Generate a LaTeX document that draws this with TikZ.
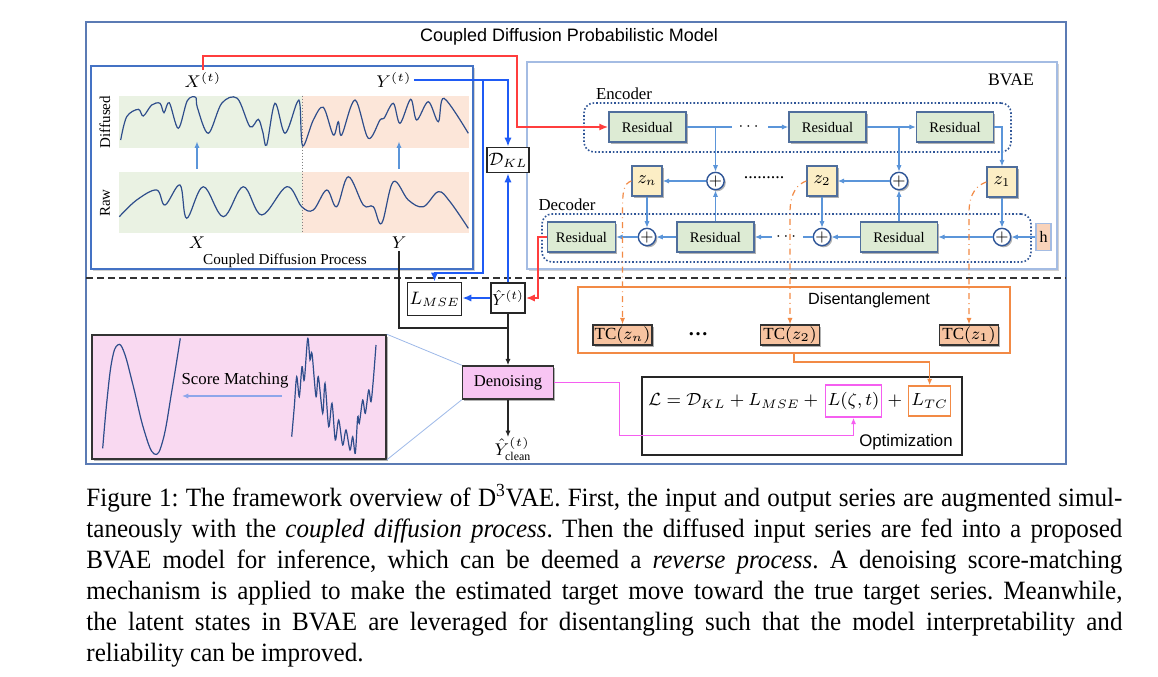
\RequirePackage{fix-cm}
\documentclass[tikz,border=0pt]{standalone}
\usepackage{amsmath}
\usepackage{amssymb}
\usepackage{fontspec}
\setmainfont{Liberation Serif}
\newfontfamily\diagsans{Liberation Sans}
\newfontfamily\capfont{Liberation Serif}[FakeStretch=0.95]
\usepackage{tikz}
\usetikzlibrary{arrows.meta, positioning, calc, shadows}

\definecolor{frameblue}{HTML}{5B7BB4}
\definecolor{procblue}{HTML}{4472C4}
\definecolor{bvaeblue}{HTML}{A4BCE3}
\definecolor{flowblue}{HTML}{5B95D9}
\definecolor{linkblue}{HTML}{1F5BF5}
\definecolor{dotblue}{HTML}{2F5597}
\definecolor{edgeblue}{HTML}{4F6E9C}
\definecolor{resgreen}{HTML}{DDEBD4}
\definecolor{zyellow}{HTML}{FCEEC5}
\definecolor{tcpeach}{HTML}{F7C3A0}
\definecolor{hpeach}{HTML}{F9D3BA}
\definecolor{bandgreen}{HTML}{EAF2E3}
\definecolor{bandorange}{HTML}{FCE6D9}
\definecolor{linkred}{HTML}{FF3D3D}
\definecolor{tcorange}{HTML}{F28A45}
\definecolor{lossmagenta}{HTML}{F55FF0}
\definecolor{denpink}{HTML}{F8C5F3}
\definecolor{scorepink}{HTML}{F9D9F1}
\definecolor{curveblue}{HTML}{2E4D8B}
\definecolor{zoomblue}{HTML}{9DB8E8}

\tikzset{%
	boxshadow/.style={drop shadow={shadow xshift=0.8pt, shadow yshift=-0.8pt, fill=black, opacity=0.3}},
	panel/.style={draw=#1, fill=white, line width=0.9pt,%
		drop shadow={shadow xshift=1.2pt, shadow yshift=-1.2pt, fill=gray!70, opacity=0.5}},
	band/.style={fill=#1, inner sep=0pt},
	res/.style={draw=edgeblue, fill=resgreen, line width=0.7pt, minimum width=38.5pt,%
		minimum height=15pt, inner sep=0pt, font=\fontsize{7.3}{8}\selectfont, boxshadow},
	zbox/.style={draw=edgeblue, fill=zyellow, line width=0.7pt, minimum width=15pt,%
		minimum height=15pt, inner sep=0pt, font=\fontsize{9}{9}\selectfont, boxshadow},
	adder/.style={circle, draw=dotblue, fill=white, line width=0.7pt, minimum size=8.5pt,%
		inner sep=0pt, font=\fontsize{8}{8}\selectfont, boxshadow},
	hbox/.style={draw=bvaeblue, fill=hpeach, line width=0.7pt, minimum width=7.5pt,%
		minimum height=13.5pt, inner sep=0pt, font=\fontsize{8}{8}\selectfont},
	coder/.style={draw=dotblue, densely dotted, line width=0.8pt, rounded corners=5pt},
	flow/.style={->, draw=flowblue, line width=0.55pt},
	flowline/.style={draw=flowblue, line width=0.55pt},
	link/.style={-{Latex[length=4.5pt, width=3.6pt]}, draw=linkblue, line width=1pt},
	redlink/.style={-{Latex[length=4.5pt, width=3.6pt]}, draw=linkred, line width=0.9pt},
	blk/.style={draw=black!85, line width=0.6pt},
	lbox/.style={draw=black!85, fill=white, line width=0.8pt, inner sep=1pt, font=\fontsize{9}{10}\selectfont},
	tcbox/.style={draw=black!80, fill=tcpeach, line width=0.7pt, minimum width=29.5pt,%
		minimum height=10pt, inner sep=0pt, font=\fontsize{8.5}{9}\selectfont, boxshadow},
	tcflow/.style={->, draw=tcorange, dash dot, line width=0.6pt},
	curve/.style={draw=curveblue, line width=0.6pt},
	mathlab/.style={font=\fontsize{8.5}{9}\selectfont, inner sep=1pt},
	formula/.style={font=\fontsize{8.8}{10}\selectfont, inner sep=1pt},
	serlab/.style={font=\fontsize{#1}{#1}\selectfont, inner sep=1pt},
	sanslab/.style={font=\diagsans\fontsize{#1}{#1}\selectfont, inner sep=1pt}
}

\begin{document}
\begin{tikzpicture}[x=0.5pt, y=-0.5pt, >={Latex[length=3.2pt, width=2.6pt]}]
	\useasboundingbox (0,0) rectangle (1158,676);
	\draw[draw=frameblue, line width=1pt] (86,22) rectangle (1066,464);
	\node[sanslab=9] (title) at (569,37) {Coupled Diffusion Probabilistic Model};
	\node[panel=procblue, minimum width=191pt, minimum height=101.5pt] (cdp) at (282,167.5) {};
	\node[panel=bvaeblue, minimum width=265pt, minimum height=103.5pt] (bvae) at (792,165.5) {};
	\draw[dash pattern=on 3.5pt off 2pt, line width=0.7pt, black!80] (86,278) -- (1066,278);

	\node[band=bandgreen, minimum width=91.5pt, minimum height=26pt] (xdif) at (210.5,122) {};
	\node[band=bandorange, minimum width=83.5pt, minimum height=26pt] (ydif) at (385.5,122) {};
	\node[band=bandgreen, minimum width=91.5pt, minimum height=30.5pt] (xraw) at (210.5,202.5) {};
	\node[band=bandorange, minimum width=83.5pt, minimum height=30.5pt] (yraw) at (385.5,202.5) {};
	\draw[densely dotted, gray, line width=0.5pt] (xdif.north east) -- (xraw.south east);
	\draw[curve] plot[smooth, tension=0.55] coordinates {(120.7,140) (126.7,116.7) (138.3,109.3) (143.3,116)
		(151.7,105) (160,103.3) (164,112.7) (169.3,102.7) (178.3,128.3) (187.3,100.7) (195.7,97.3)
		(197.3,107.3) (208.3,133.3) (221.7,103.3) (237.3,98.3) (250,126.7) (258.3,119.3) (262.7,131.7)
		(266.7,145) (275,103.3) (285,133.3) (296.7,103.3) (300,105) (302.7,146) (313.3,120) (323.3,107.3)
		(333.3,135) (338.3,121.7) (341.7,135) (355,100) (368.3,138.3) (380,120) (384,118.3) (393.3,103.3)
		(400,123.3) (410.7,99.3) (416.7,120) (428.3,101.7) (438.3,121.7) (444,98.3) (468.3,133.3)};
	\draw[curve] plot[smooth, tension=0.6] coordinates {(119.3,216.7) (136.7,200) (156.7,190) (165,205)
		(180,185) (186.7,218.3) (203.3,186.7) (223.3,216.7) (243.3,186.7) (261.7,215) (286.7,186.7)
		(301.7,206.7) (313.3,210) (326.7,190) (336.7,206.7) (348.3,176.7) (363.3,205) (373.3,206.7)
		(381.7,223.3) (393.3,181.7) (408.3,200) (423.3,206.7) (438.3,191.7) (450,201.7) (468.3,228.3)};
	\node[serlab=7.5, rotate=90] (diflab) at (105,122) {Diffused};
	\node[serlab=7.5, rotate=90] (rawlab) at (105,203) {Raw};
	\node[mathlab] (xt) at (203,80) {$X^{(t)}$};
	\node[mathlab] (yt) at (394,80) {$Y^{(t)}$};
	\node[mathlab] (xlab) at (197,243) {$X$};
	\node[mathlab] (ylab) at (399,243) {$Y$};
	\node[serlab=7.6] (cdplab) at (285,261) {Coupled Diffusion Process};
	\draw[flow, line width=0.7pt, shorten >=-3.5pt, shorten <=1.5pt] (xlab |- xraw.north) -- (xlab |- xdif.south);
	\draw[flow, line width=0.7pt, shorten >=-3.5pt, shorten <=1.5pt] (ylab |- yraw.north) -- (ylab |- ydif.south);

	\node[serlab=8.8] (bvaelab) at (1011,80) {BVAE};
	\node[coder, minimum width=213.5pt, minimum height=24.5pt] (enc) at (797.5,127.5) {};
	\node[coder, minimum width=244.5pt, minimum height=24pt] (dec) at (786.5,238) {};
	\node[serlab=8.4] (enclab) at (624,94) {Encoder};
	\node[serlab=8.4] (declab) at (567,205) {Decoder};
	\node[res] (e1) at (647.5,127) {Residual};
	\node[minimum width=18pt, inner sep=0pt, font=\fontsize{8}{8}\selectfont] (edots) at (750,127) {$\cdots$};
	\node[res] (e2) at (827.5,127) {Residual};
	\node[res] (e3) at (955,127) {Residual};
	\node[zbox] (zn) at (647,181) {$z_n$};
	\node[adder] (a1) at (715.5,181) {$+$};
	\node[serlab=9] (zdots) at (764,178) {.........};
	\node[zbox] (z2) at (822,181) {$z_2$};
	\node[adder] (a2) at (899,181) {$+$};
	\node[zbox] (z1) at (1002,182) {$z_1$};
	\node[res, minimum width=34pt] (d1) at (581.5,237) {Residual};
	\node[adder] (p1) at (647,237) {$+$};
	\node[res] (d2) at (715.5,237) {Residual};
	\node[minimum width=15.5pt, inner sep=0pt, font=\fontsize{8}{8}\selectfont] (ddots) at (787.5,237) {$\cdots$};
	\node[adder] (p2) at (822,237) {$+$};
	\node[res] (d3) at (899,237) {Residual};
	\node[adder] (p3) at (1002,237) {$+$};
	\node[hbox] (h) at (1043.5,237) {h};

	\draw[flowline] (e1) -- (edots);
	\draw[flow] (edots) -- (e2);
	\draw[flow] (e2) -- (e3);
	\draw[flow] (e3.east) -| (z1.north);
	\draw[flow] (a1 |- e1.east) -- (a1);
	\draw[flow] (a2 |- e2.east) -- (a2);
	\draw[flow] (a1) -- (zn);
	\draw[flow] (a2) -- (z2);
	\draw[flow] (h) -- (p3);
	\draw[flow] (p3) -- (d3);
	\draw[flow] (d3) -- (p2);
	\draw[flowline] (p2) -- (ddots);
	\draw[flow] (ddots) -- (d2);
	\draw[flow] (d2) -- (p1);
	\draw[flow] (p1) -- (d1);
	\draw[flow] (zn) -- (p1);
	\draw[flow] (z2) -- (p2);
	\draw[flow] (z1) -- (p3);
	\draw[flow] (d2) -- (a1);
	\draw[flow] (d3) -- (a2);

	\node[lbox, minimum width=18pt, minimum height=12.5pt] (dkl) at (508,160) {$\mathcal{D}_{KL}$};
	\node[lbox, minimum width=24.5pt, minimum height=16.5pt] (lmse) at (434.5,299) {$L_{MSE}$};
	\node[lbox, minimum width=17pt, minimum height=15pt, inner sep=0.5pt, font=\fontsize{8}{9}\selectfont] (yhat) at (508,298) {$\hat{Y}^{(t)}$};
	\coordinate (redtop) at (517,56);
	\coordinate (ysplit) at (483,273);
	\coordinate (yjoin) at (508,328);
	\draw[redlink] (xt.north) |- (redtop) |- (e1.west);
	\draw[redlink] (d1.west) -- ++(-9,0) |- (yhat.east);
	\draw[link] (yt.east) -| (dkl.north);
	\draw[link] (yt.east -| ysplit) -- (ysplit) -| (lmse.north);
	\draw[link] (yhat.north) -- (dkl.south);
	\draw[link] (yhat.west) -- (yhat.west -| lmse.east);
	\draw[blk] (ylab.south) |- (yjoin);

	\node[draw=black!80, fill=denpink, line width=0.8pt, minimum width=45.5pt, minimum height=16.5pt,%
		inner sep=0pt, font=\fontsize{8.3}{9}\selectfont, boxshadow] (den) at (508,382.5) {Denoising};
	\draw[blk, ->] (yhat.south) -- (den.north);
	\node[mathlab, inner sep=0pt] (clean) at (513,449) {$\hat{Y}^{(t)}_{\text{clean}}$};
	\draw[blk, ->] (den.south) -- (den.south |- clean.north);
	\node[draw=black!80, fill=scorepink, line width=0.8pt, minimum width=147pt, minimum height=62pt,%
		boxshadow] (score) at (239,397) {};
	\draw[zoomblue, line width=0.4pt] (score.north east) -- (den.north west);
	\draw[zoomblue, line width=0.4pt] (score.south east) -- (den.south west);
	\draw[curve] plot[smooth, tension=0.7] coordinates {(102.7,448.3) (107,400) (112,360) (117.7,345)
		(124,352) (133,385) (144,430) (154.3,454) (163,440) (172,390) (180.3,338.3)};
	\draw[curve] plot[smooth, tension=0.5] coordinates {(291.7,436.7) (294.3,406.7) (296.7,376.7) (299.3,396.7)
		(302,366.7) (304.3,380) (307.7,338.3) (310,360) (312,353.3) (316,396.7) (318.3,376.7) (322.7,413.3)
		(325,383.3) (328.7,426.7) (332,403.3) (335.3,440) (338.7,420) (342.7,445) (346,430) (350,450)
		(352.7,436.7) (355.3,453.3) (357.7,416.7) (359.3,423.3) (362.7,400) (365.3,413.3) (368.7,390)
		(371,401.7) (373.3,380) (376,345)};
	\node[serlab=8.4] (smlab) at (235,380) {Score Matching};
	\coordinate (smfrom) at (282,396);
	\coordinate (smto) at (182,396);
	\draw[->, draw=zoomblue!90!blue, line width=0.6pt] (smfrom) -- (smto);

	\node[draw=tcorange, line width=0.9pt, minimum width=216pt, minimum height=33pt] (dis) at (794,320) {};
	\node[sanslab=8.1] (dislab) at (869,300) {Disentanglement};
	\node[tcbox] (tcn) at (622.5,335) {TC$(z_n)$};
	\node[serlab=10, font=\bfseries] (tcdots) at (698,334) {\dots};
	\node[tcbox] (tc2) at (790,335) {TC$(z_2)$};
	\node[tcbox] (tc1) at (969,335) {TC$(z_1)$};
	\draw[tcflow] (zn.west) .. controls +(-8,3) and +(0,-22) .. (tcn.north |- dec.north) -- (tcn.north);
	\draw[tcflow] (z2.west) .. controls +(-8,3) and +(0,-22) .. (tc2.north |- dec.north) -- (tc2.north);
	\draw[tcflow] (z1.west) .. controls +(-8,3) and +(0,-22) .. (tc1.north |- dec.north) -- (tc1.north);

	\node[lbox, minimum width=160pt, minimum height=39pt, line width=0.9pt] (opt) at (802,416) {};
	\node[formula, draw=lossmagenta, line width=0.8pt, minimum width=27.5pt, minimum height=16pt] (lz) at (853.5,401) {$L(\zeta,t)$};
	\node[formula, left=0pt of lz] (lsum) {$\mathcal{L}=\mathcal{D}_{KL}+L_{MSE}+{}$};
	\node[formula, right=0pt of lz, inner sep=0.5pt] (lplus) {${}+{}$};
	\node[formula, right=0pt of lplus, draw=tcorange, line width=0.8pt, minimum width=21pt, minimum height=15pt] (ltc) {$L_{TC}$};
	\node[sanslab=8.4] (optlab) at (906,442) {Optimization};
	\draw[->, draw=tcorange, line width=0.8pt] (dis.south) -- ++(0,8) -| (ltc.north);
	\draw[->, draw=lossmagenta, line width=0.8pt] (den.east) -- ++(65,0) -- ++(0,53) -| (lz.south);

	\node[anchor=north west, text width=518pt, align=justify, inner sep=0pt,%
		font=\capfont\fontsize{13.2}{15.5}\selectfont\frenchspacing] (caption) at (86,484) {Figure 1: The framework overview of
		D\textsuperscript{3}VAE. First, the input and output series are augmented simul-\linebreak
		taneously with the \textit{coupled diffusion process}. Then the diffused input series are fed into a proposed\linebreak
		BVAE model for inference, which can be deemed a \textit{reverse process}. A denoising score-matching\linebreak
		mechanism is applied to make the estimated target move toward the true target series. Meanwhile,\linebreak
		the latent states in BVAE are leveraged for disentangling such that the model interpretability and\linebreak
		reliability can be improved.};
\end{tikzpicture}
\end{document}
